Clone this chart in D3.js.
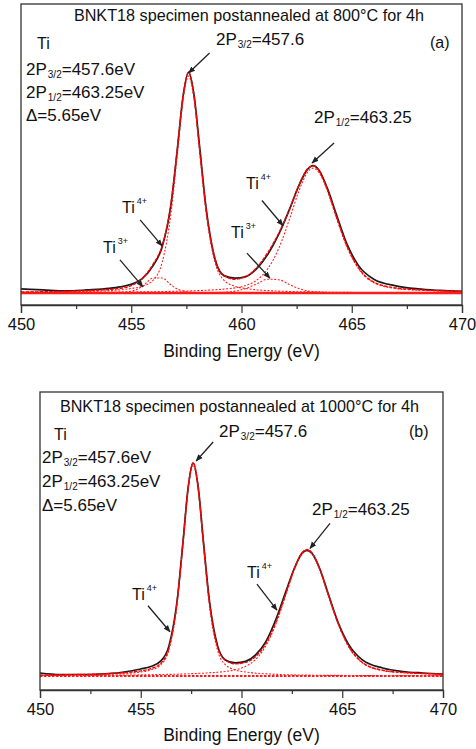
<!DOCTYPE html>
<html><head><meta charset="utf-8">
<script src="https://cdn.jsdelivr.net/npm/d3@7/dist/d3.min.js"></script>
<style>
body{margin:0;background:#fff}
svg{display:block}
text{font-family:"Liberation Sans",Arial,Helvetica,sans-serif;fill:#111}
</style>
</head><body>
<svg id="c" width="476" height="749"></svg>
<script>
// ---- Data (binding energy in eV, intensities in arbitrary units) ----
const energy = [450,451,452,453,454,454.5,455,455.5,456,
  456.4,456.8,457.1,457.35,457.6,457.85,458.1,458.4,458.8,459.2,459.7,
  460.2,460.7,461.2,461.7,462.2,462.6,463.0,463.25,463.5,463.9,464.3,464.8,465.3,
  466,467,468,469,470];

// Panel (a): 800 °C
const aMeasured = [4,3,2,3,4.5,6,8.5,14,27,
  45,86,142,192,216,193,143,82,33,17,14.5,
  16,24,38,58,83,105,121,124.5,120.5,102,77,47,27,
  13.5,7,4,2.5,1.5];
const aFit = [1.0,1.2,1.7,2.3,3.5,4.6,7.1,14.2,28.6,
  46.0,87.4,143.7,192.9,215.2,192.0,141.1,81.0,33.7,17.3,13.5,
  16.2,25.0,39.8,58.9,83.2,105.1,121.4,124.3,120.0,100.8,74.8,45.0,24.7,
  10.7,4.9,3.2,2.2,1.7];
const aTi4_2p32 = [0.5,0.7,1.0,1.5,2.3,3.1,4.4,6.6,12.6,
  29.8,77.7,138,189,212,189,138,77.7,29.8,12.6,6.6,
  4.4,3.1,2.3,1.8,1.5,1.2,1.1,1.0,0.9,0.8,0.7,0.6,0.5,
  0.4,0.4,0.3,0.2,0.2];
const aTi3_2p32 = [0.0,0.1,0.1,0.2,0.3,0.6,1.7,6.4,14.7,
  14.7,8.0,3.8,1.9,1.0,0.6,0.4,0.3,0.2,0.2,0.1,
  0.1,0.1,0.1,0.1,0.1,0.1,0.0,0.0,0.0,0.0,0.0,0.0,0.0,
  0.0,0.0,0.0,0.0,0.0];
const aTi4_2p12 = [0.4,0.4,0.5,0.6,0.8,0.9,1.0,1.1,1.2,
  1.4,1.6,1.7,1.8,2.0,2.2,2.4,2.7,3.1,3.8,5.0,
  7.4,12.7,23.9,44.1,73.7,99.4,118.2,122,118.2,99.4,73.7,44.1,23.9,
  10.1,4.4,2.8,1.9,1.4];
const aTi3_2p12 = [0.0,0.0,0.0,0.1,0.1,0.1,0.1,0.1,0.1,
  0.1,0.2,0.2,0.2,0.2,0.3,0.3,0.4,0.5,0.8,1.8,
  4.4,9.1,13.5,12.9,8.0,4.4,2.1,1.3,0.9,0.5,0.4,0.3,0.2,
  0.2,0.1,0.1,0.1,0.1];

// Panel (b): 1000 °C
const bMeasured = [3,1.5,1.5,2,3.5,5,7,9.5,15,
  30,74,134,187,212,188,136,76,31,16,13,
  14.5,21,34,56,84,106,122,125,122,106,82,53,32,
  16,8,4.5,3,2];
const bFit = [0.9,1.2,1.5,2.1,3.1,3.9,5.1,7.3,12.7,
  27.9,73.5,134.4,187.7,212.4,188.1,135.2,74.9,30.0,15.7,12.2,
  13.5,19.3,31.9,53.2,82.0,105.8,122.6,125.9,122.4,105.4,81.3,52.1,30.2,
  13.5,5.7,3.6,2.5,1.9];
const bTi4_2p32 = [0.5,0.7,0.9,1.3,2.2,2.9,4.0,6.0,11.2,
  26.3,71.7,132.4,185.5,210,185.5,132.4,71.7,26.3,11.2,6.0,
  4.0,2.9,2.2,1.7,1.3,1.1,1.0,0.9,0.8,0.7,0.6,0.6,0.5,
  0.4,0.3,0.3,0.2,0.2];
const bTi4_2p12 = [0.5,0.5,0.6,0.8,0.9,1.0,1.1,1.3,1.5,
  1.6,1.8,2.0,2.2,2.4,2.6,2.8,3.2,3.7,4.5,6.2,
  9.5,16.4,29.7,51.5,80.7,104.7,121.6,125,121.6,104.7,80.7,51.5,29.7,
  13.1,5.4,3.3,2.3,1.7];

const xTicks = [450,455,460,465,470];
const xMinorTicks = [452.5,457.5,462.5,467.5];
const xDomain = [450,470];
const xLabel = "Binding Energy (eV)";
const titles = ["BNKT18 specimen postannealed at 800\u00B0C for 4h",
                "BNKT18 specimen postannealed at 1000\u00B0C for 4h"];
const panelTags = ["(a)","(b)"];
const infoLines = [["2P","3/2","=457.6eV"],["2P","1/2","=463.25eV"],["\u0394=5.65eV","",""]];

// ---- Drawing ----
const svg = d3.select('#c');
svg.append('rect').attr('width',476).attr('height',749).attr('fill','#fff');
const defs = svg.append('defs');
defs.append('marker').attr('id','ah').attr('viewBox','0 0 10 10')
  .attr('refX',9).attr('refY',5).attr('markerWidth',5.5).attr('markerHeight',5.5)
  .attr('orient','auto').append('path').attr('d','M0,1L10,5L0,9z').attr('fill','#222');

function rich(g, x, y, parts, size){
  const t = g.append('text').attr('x',x).attr('y',y).attr('font-size',size);
  parts.forEach(p=>{
    const s = t.append('tspan').text(p.t);
    if(p.s) s.attr('font-size',p.s);
    if(p.dy) s.attr('dy',p.dy);
    if(p.dx) s.attr('dx',p.dx);
  });
  return t;
}

function drawPanel(cfg){
  const g = svg.append('g');
  const x = d3.scaleLinear().domain(xDomain).range([cfg.left,cfg.right]);
  const y = d3.scaleLinear().domain([0,cfg.vref]).range([cfg.base,cfg.peakY]);
  const clipId = 'clip'+cfg.id;
  defs.append('clipPath').attr('id',clipId).append('rect')
    .attr('x',cfg.left).attr('y',cfg.top).attr('width',cfg.right-cfg.left).attr('height',cfg.bottom-cfg.top);
  const plot = g.append('g').attr('clip-path',`url(#${clipId})`);
  const line = d3.line().x((d,i)=>x(energy[i])).y(d=>y(d)).curve(d3.curveMonotoneX);

  plot.append('path').datum(cfg.measured).attr('d',line).attr('fill','none')
    .attr('stroke','#1a1a1a').attr('stroke-width',1.7);
  // background
  plot.append('line').attr('x1',x(xDomain[0])).attr('x2',x(xDomain[1]))
    .attr('y1',y(0)).attr('y2',y(0)).attr('stroke','#ff1a1a')
    .attr('stroke-width',cfg.bgWidth).attr('stroke-dasharray',cfg.bgDash);
  cfg.comps.forEach(c=>{
    plot.append('path').datum(c).attr('d',line).attr('fill','none')
      .attr('stroke','#ff2020').attr('stroke-width',1.1).attr('stroke-dasharray','2,1.6');
  });
  plot.append('path').datum(cfg.fit).attr('d',line).attr('fill','none')
    .attr('stroke','#ff0000').attr('stroke-width',1.4).attr('stroke-dasharray','3.5,1.2');

  // frame
  g.append('rect').attr('x',cfg.left).attr('y',cfg.top)
    .attr('width',cfg.right-cfg.left).attr('height',cfg.bottom-cfg.top)
    .attr('fill','none').attr('stroke','#333').attr('stroke-width',1.3);

  // axes
  const ax = g.append('g').attr('transform',`translate(0,${cfg.bottom})`)
    .call(d3.axisBottom(x).tickValues(xTicks).tickSize(8).tickPadding(cfg.pad).tickFormat(d3.format('d')));
  ax.select('.domain').attr('stroke','#333').attr('stroke-width',1.3);
  ax.selectAll('.tick line').attr('stroke','#333').attr('stroke-width',1.2);
  ax.selectAll('.tick text').attr('font-size',16.5).attr('fill','#111')
    .attr('font-family','"Liberation Sans",Arial,sans-serif');
  const axm = g.append('g').attr('transform',`translate(0,${cfg.bottom})`)
    .call(d3.axisBottom(x).tickValues(xMinorTicks).tickSize(4).tickFormat(''));
  axm.select('.domain').remove();
  axm.selectAll('.tick line').attr('stroke','#333').attr('stroke-width',1.2);

  g.append('text').attr('x',(cfg.left+cfg.right)/2).attr('y',cfg.xlabY)
    .attr('text-anchor','middle').attr('font-size',17.5).text(xLabel);

  // title, tag, info
  g.append('text').attr('x',cfg.titleX).attr('y',cfg.titleY).attr('text-anchor','middle')
    .attr('font-size',16.2).text(cfg.title);
  g.append('text').attr('x',cfg.tagX).attr('y',cfg.tagY).attr('font-size',16).text(cfg.tag);
  g.append('text').attr('x',cfg.tiX).attr('y',cfg.tiY).attr('font-size',16).text('Ti');
  infoLines.forEach((ln,i)=>{
    const parts = [{t:ln[0]}];
    if(ln[1]){ parts.push({t:ln[1],s:10,dy:3,dx:1}); parts.push({t:ln[2],dy:-3}); }
    rich(g, cfg.infoX, cfg.infoY[i], parts, 17);
  });

  // annotations
  cfg.notes.forEach(n=>{
    const tx = x(n.tip[0]), ty = y(n.tip[1]);
    g.append('line').attr('x1',tx+n.off[0]).attr('y1',ty+n.off[1]).attr('x2',tx).attr('y2',ty)
      .attr('stroke','#222').attr('stroke-width',1.3).attr('marker-end','url(#ah)');
    let parts;
    if(n.kind==='sub') parts=[{t:'2P'},{t:n.a,s:10,dy:3,dx:1},{t:n.b,dy:-3}];
    else parts=[{t:'Ti'},{t:n.a,s:9,dy:-9,dx:2}];
    rich(g, n.lx, n.ly, parts, n.kind==='sub'?17:16);
  });
}

drawPanel({id:'a', left:21, right:462, top:4, bottom:305, base:293, peakY:73, vref:215,
  measured:aMeasured, fit:aFit, comps:[aTi4_2p32,aTi3_2p32,aTi4_2p12,aTi3_2p12],
  bgWidth:2.6, bgDash:null, pad:5.5, xlabY:357,
  title:titles[0], titleX:249, titleY:21, tag:panelTags[0], tagX:430, tagY:48,
  tiX:37, tiY:49, infoX:26, infoY:[75,98,121],
  notes:[
    {kind:'sub', a:'3/2', b:'=457.6', tip:[457.6,215], off:[21,-20], lx:216, ly:45},
    {kind:'sub', a:'1/2', b:'=463.25', tip:[463.2,127], off:[22,-20], lx:314, ly:123},
    {kind:'ti', a:'4+', tip:[456.4,46], off:[-22,-26], lx:122, ly:213},
    {kind:'ti', a:'3+', tip:[455.53,6], off:[-23,-27], lx:103, ly:253},
    {kind:'ti', a:'4+', tip:[461.88,66], off:[-21,-25], lx:246, ly:189},
    {kind:'ti', a:'3+', tip:[461.29,14.5], off:[-23,-25], lx:231, ly:238}
  ]});

drawPanel({id:'b', left:40, right:443, top:392, bottom:690, base:676, peakY:463, vref:212,
  measured:bMeasured, fit:bFit, comps:[bTi4_2p32,bTi4_2p12],
  bgWidth:2, bgDash:'2.5,1.5', pad:5, xlabY:741,
  title:titles[1], titleX:239.5, titleY:412, tag:panelTags[1], tagX:409, tagY:437,
  tiX:54, tiY:440, infoX:42, infoY:[463,487,511],
  notes:[
    {kind:'sub', a:'3/2', b:'=457.6', tip:[457.75,214], off:[17,-19], lx:219, ly:437},
    {kind:'sub', a:'1/2', b:'=463.25', tip:[463.4,127], off:[20,-25], lx:312, ly:515},
    {kind:'ti', a:'4+', tip:[456.45,44], off:[-22,-26], lx:132, ly:600},
    {kind:'ti', a:'4+', tip:[461.76,65.5], off:[-20,-26], lx:247, ly:578}
  ]});
</script>
</body></html>
